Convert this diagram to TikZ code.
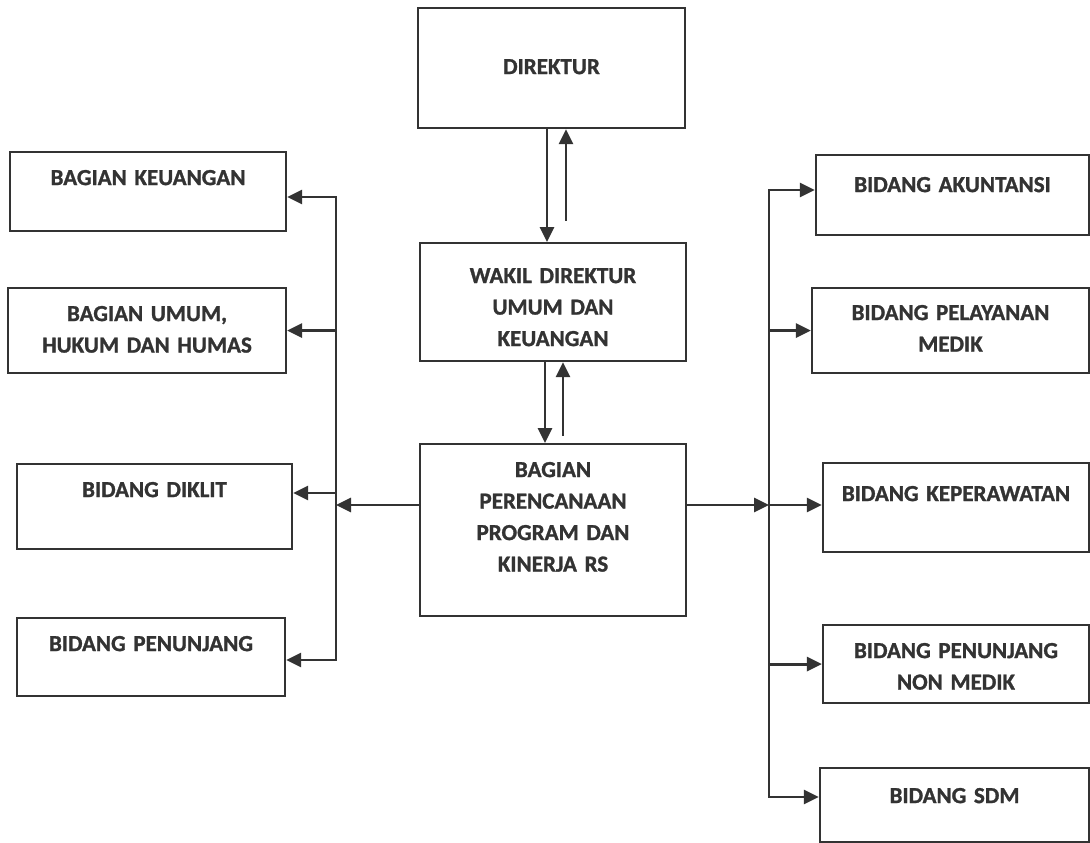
\documentclass[tikz,border=0pt]{standalone}
\usepackage{fontspec}
\setmainfont{Carlito}[BoldFeatures={FakeBold=1.2}]
\usetikzlibrary{positioning,arrows.meta}
\definecolor{ink}{HTML}{333333}

\begin{document}
\begin{tikzpicture}[x=1pt, y=-1pt, >={Triangle[length=15pt,width=14pt]},
  every node/.style={font={\fontsize{23}{31.5}\selectfont\bfseries}, text=ink},
  unit/.style={draw=ink, line width=2.2pt, anchor=north, inner sep=0pt, align=center, text height=33pt},
  link/.style={draw=ink, line width=2.8pt, line cap=rect}]
  \useasboundingbox (0,0) rectangle (1090,843);

  % centre column
  \node[unit, text width=267pt, text height=66pt, text depth=54pt] (dir) at (551.5,7) {DIREKTUR};
  \node[unit, text width=266pt, text height=40pt, text depth=78pt] (wakil) at (553,242) {WAKIL DIREKTUR\\UMUM DAN\\KEUANGAN};
  \node[unit, text width=266pt, text depth=139pt] (pren) at (553,443) {BAGIAN\\PERENCANAAN\\PROGRAM DAN\\KINERJA RS};

  % left column
  \node[unit, text width=276pt, text depth=46pt] (keu) at (148,151) {BAGIAN KEUANGAN};
  \node[unit, text width=278pt, text depth=52pt] (umum) at (147,287) {BAGIAN UMUM,\\HUKUM DAN HUMAS};
  \node[unit, text width=275pt, text depth=52pt] (diklit) at (154.5,463) {BIDANG DIKLIT};
  \node[unit, text width=268pt, text depth=45pt] (pnj) at (151,617) {BIDANG PENUNJANG};

  % right column
  \node[unit, text width=273pt, text height=37pt, text depth=43pt] (akun) at (952.5,154) {BIDANG AKUNTANSI};
  \node[unit, text width=277pt, text height=32pt, text depth=53pt] (medik) at (950.5,287) {BIDANG PELAYANAN\\MEDIK};
  \node[unit, text width=266pt, text height=38pt, text depth=51pt] (rawat) at (956,462) {BIDANG KEPERAWATAN};
  \node[unit, text width=266pt, text depth=45pt] (nonmedik) at (956,624) {BIDANG PENUNJANG\\NON MEDIK};
  \node[unit, text width=269pt, text height=35pt, text depth=39pt] (sdm) at (954.5,767) {BIDANG SDM};

  % trunks
  \coordinate (ltop) at (336,197);
  \coordinate (ldik) at (336,493);
  \coordinate (lmid) at (336,505);
  \coordinate (lbot) at (336,660);
  \coordinate (rtop) at (769,190);
  \coordinate (rmid) at (769,505);
  \coordinate (rbot) at (769,797);
  \draw[link] (ltop) -- (lbot);
  \draw[link] (rtop) -- (rbot);

  % vertical links
  \coordinate (d1) at ([xshift=-4.5pt]dir.south);
  \coordinate (u1) at ([xshift=14.5pt]dir.south);
  \coordinate (d2) at ([xshift=-8pt]wakil.south);
  \coordinate (u2) at ([xshift=10pt]wakil.south);
  \draw[link,->] (d1) -- (d1 |- wakil.north);
  \draw[link,<-] (u1) -- ++(0,90);
  \draw[link,->] (d2) -- (d2 |- pren.north);
  \draw[link,<-] (u2) -- ++(0,72);

  % left branches
  \draw[link,->] (pren.west |- lmid) -- (lmid);
  \draw[link,->] (ltop) -- (keu.east |- ltop);
  \draw[link,->] (ltop |- umum.east) -- (umum.east);
  \draw[link,->] (ldik) -- (diklit.east |- ldik);
  \draw[link,->] (lbot) -- (pnj.east |- lbot);

  % right branches
  \draw[link,->] (pren.east |- rmid) -- (rmid);
  \draw[link,->] (rtop) -- (akun.west |- rtop);
  \draw[link,->] (rtop |- medik.west) -- (medik.west);
  \draw[link,->] (rmid) -- (rawat.west |- rmid);
  \draw[link,->] (rtop |- nonmedik.west) -- (nonmedik.west);
  \draw[link,->] (rbot) -- (sdm.west |- rbot);
\end{tikzpicture}
\end{document}
